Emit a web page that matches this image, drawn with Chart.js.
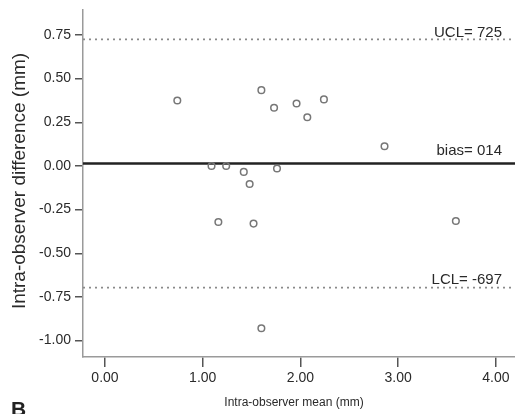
<!DOCTYPE html>
<html>
<head>
<meta charset="utf-8">
<script src="https://cdn.jsdelivr.net/npm/chart.js@4.4.1/dist/chart.umd.min.js"></script>
<style>
  html, body { margin: 0; padding: 0; background: #fff; overflow: hidden; }
  canvas { display: block; }
</style>
</head>
<body>
<canvas id="bland" width="515" height="414"></canvas>
<script>
// -------- data --------
const meanVals = [0.74, 1.09, 1.24, 1.42, 1.48, 1.60, 1.73, 1.96, 2.07, 2.24, 2.86, 1.76, 1.16, 1.52, 1.60, 3.59];
const diffVals = [0.375, 0.00, 0.00, -0.034, -0.103, 0.434, 0.333, 0.358, 0.279, 0.381, 0.113, -0.015, -0.321, -0.330, -0.929, -0.315];
const xTicks = [0, 1, 2, 3, 4];
const yTicks = [-1.00, -0.75, -0.50, -0.25, 0.00, 0.25, 0.50, 0.75];
const limitNames = ["UCL", "bias", "LCL"];
const limitVals = [0.725, 0.014, -0.697];
const limitText = ["UCL= 725", "bias= 014", "LCL= -697"];

const X_MIN = -0.225, X_MAX = 4.195;
const Y_MIN = -1.094, Y_MAX = 0.893;
const FONT = "'Liberation Sans', Arial, sans-serif";

const points = meanVals.map((x, i) => ({ x, y: diffVals[i] }));
const limitSets = limitVals.map((v, i) => ({
  type: "line",
  label: limitNames[i],
  data: [{ x: X_MIN, y: v }, { x: X_MAX, y: v }],
  borderColor: i === 1 ? "#222" : "#8a8a8a",
  borderWidth: i === 1 ? 2.6 : 1.6,
  borderDash: i === 1 ? [] : [2, 4],
  pointRadius: 0,
  order: 2
}));

// -------- text overlays: limit labels, axis titles, panel letter --------
const labelLift = [2.5, 9, 3.5];
const overlay = {
  id: "overlay",
  afterDraw(chart) {
    const { ctx, scales: { y } } = chart;
    ctx.save();
    ctx.fillStyle = "#2a2a2a";
    ctx.font = `15px ${FONT}`;
    ctx.textAlign = "right";
    ctx.textBaseline = "alphabetic";
    limitVals.forEach((v, i) => {
      ctx.fillText(limitText[i], 502, y.getPixelForValue(v) - labelLift[i]);
    });

    ctx.textAlign = "center";
    ctx.textBaseline = "middle";
    ctx.font = `12px ${FONT}`;
    ctx.fillText("Intra-observer mean (mm)", 294, 403);

    ctx.save();
    ctx.translate(20, 181);
    ctx.rotate(-Math.PI / 2);
    ctx.font = `19px ${FONT}`;
    ctx.fillText("Intra-observer difference (mm)", 0, 0);
    ctx.restore();

    ctx.textAlign = "left";
    ctx.textBaseline = "alphabetic";
    ctx.font = `bold 21px ${FONT}`;
    ctx.fillStyle = "#222";
    ctx.fillText("B", 11, 416);
    ctx.restore();
  }
};

new Chart(document.getElementById("bland"), {
  type: "scatter",
  data: {
    datasets: [{
      label: "difference",
      data: points,
      pointStyle: "circle",
      pointRadius: 3.3,
      pointBorderWidth: 1.5,
      borderColor: "#777",
      backgroundColor: "rgba(255,255,255,0)",
      order: 1
    }, ...limitSets]
  },
  options: {
    responsive: false,
    animation: false,
    devicePixelRatio: 1,
    layout: { autoPadding: false, padding: { top: 10, right: 0, left: 0, bottom: 0 } },
    plugins: { legend: { display: false }, tooltip: { enabled: false } },
    scales: {
      x: {
        type: "linear",
        min: X_MIN, max: X_MAX,
        afterBuildTicks: s => { s.ticks = xTicks.map(v => ({ value: v })); },
        afterFit: s => { s.height = 57; s.paddingRight = 0; s.paddingLeft = 0; },
        border: { display: true, color: "#9a9a9a", width: 1.5 },
        grid: { drawOnChartArea: false, drawTicks: true, tickLength: 10, color: "#555", lineWidth: 1.5 },
        ticks: { color: "#2a2a2a", font: { family: FONT, size: 14 }, padding: 3, maxRotation: 0,
                 callback: v => v.toFixed(2) }
      },
      y: {
        type: "linear",
        min: Y_MIN, max: Y_MAX,
        afterBuildTicks: s => { s.ticks = yTicks.map(v => ({ value: v })); },
        afterFit: s => { s.width = 83; s.paddingTop = 0; s.paddingBottom = 0; },
        border: { display: true, color: "#9a9a9a", width: 1.5 },
        grid: { drawOnChartArea: false, drawTicks: true, tickLength: 8, color: "#555", lineWidth: 1.5 },
        ticks: { color: "#2a2a2a", font: { family: FONT, size: 14 }, padding: 4,
                 callback: v => v.toFixed(2) }
      }
    }
  },
  plugins: [overlay]
});
</script>
</body>
</html>
